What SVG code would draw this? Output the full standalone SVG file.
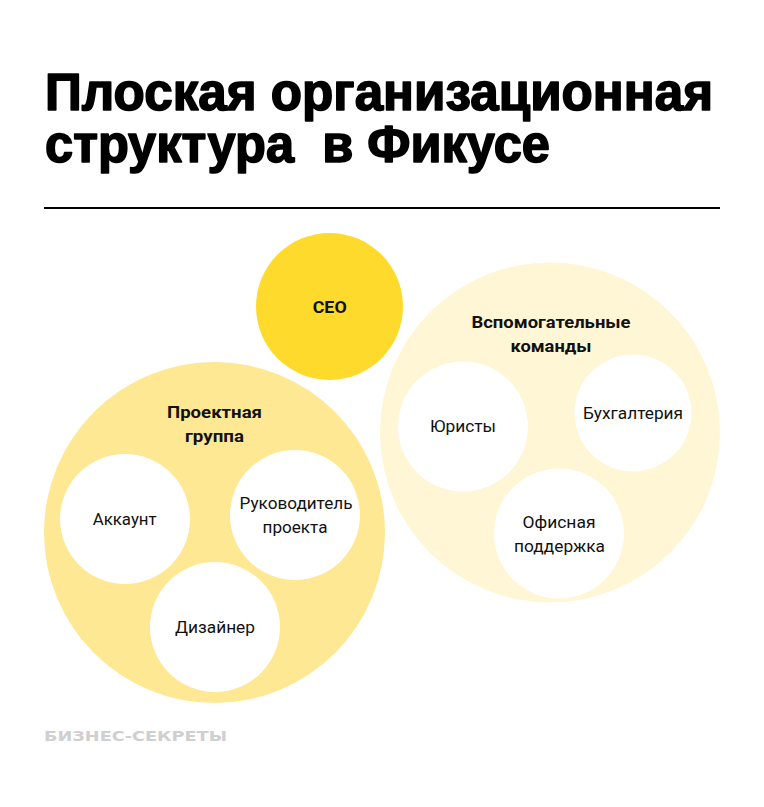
<svg xmlns="http://www.w3.org/2000/svg" width="764" height="807" viewBox="0 0 764 807">
<style>
.title{font-family:"Liberation Sans Narrow","Liberation Sans",Arial,sans-serif;font-weight:700;font-size:51px;fill:#000;stroke:#000;stroke-width:1.6px;stroke-linejoin:round;white-space:pre}
.lbl{font-family:Roboto,"Noto Sans",sans-serif;font-size:17px;fill:#111;text-anchor:middle}
.grp{font-family:Roboto,"Noto Sans",sans-serif;font-weight:700;font-size:17px;fill:#111;text-anchor:middle}
.inner{fill:#fff}
</style>
<rect width="764" height="807" fill="#fff"/>
<text class="title" x="45" y="110" textLength="668" lengthAdjust="spacingAndGlyphs">Плоская организационная</text>
<text class="title" x="45" y="162" textLength="505" lengthAdjust="spacingAndGlyphs">структура  в Фикусе</text>
<line x1="44" y1="208" x2="720" y2="208" stroke="#000" stroke-width="2"/>

<g id="project-group">
<circle cx="214.5" cy="532.5" r="170.5" fill="#FEE894"/>
<text class="grp" x="214.5" y="418" textLength="95" lengthAdjust="spacingAndGlyphs">Проектная</text>
<text class="grp" x="214.5" y="442" textLength="59" lengthAdjust="spacingAndGlyphs">группа</text>
</g>
<g id="support-teams">
<circle cx="550" cy="432.5" r="170" fill="#FFF6D6"/>
<text class="grp" x="551" y="328" textLength="159" lengthAdjust="spacingAndGlyphs">Вспомогательные</text>
<text class="grp" x="551" y="352" textLength="81" lengthAdjust="spacingAndGlyphs">команды</text>
</g>
<g id="ceo">
<circle cx="329.5" cy="306.5" r="73.5" fill="#FEDA2C"/>
<text class="grp" x="329.7" y="313" font-size="18" textLength="34" lengthAdjust="spacingAndGlyphs">CEO</text>
</g>
<g id="account">
<circle class="inner" cx="125" cy="519" r="65"/>
<text class="lbl" x="124.7" y="525" textLength="64" lengthAdjust="spacingAndGlyphs">Аккаунт</text>
</g>
<g id="project-manager">
<circle class="inner" cx="295" cy="515" r="65"/>
<text class="lbl" x="296" y="509" textLength="113" lengthAdjust="spacingAndGlyphs">Руководитель</text>
<text class="lbl" x="295" y="532.5" textLength="65" lengthAdjust="spacingAndGlyphs">проекта</text>
</g>
<g id="designer">
<circle class="inner" cx="215" cy="627" r="65"/>
<text class="lbl" x="215" y="633" textLength="80" lengthAdjust="spacingAndGlyphs">Дизайнер</text>
</g>
<g id="lawyers">
<circle class="inner" cx="463" cy="426.5" r="65"/>
<text class="lbl" x="463" y="431.5" textLength="66" lengthAdjust="spacingAndGlyphs">Юристы</text>
</g>
<g id="accounting">
<circle class="inner" cx="633" cy="413" r="58.5"/>
<text class="lbl" x="633" y="419" textLength="100" lengthAdjust="spacingAndGlyphs">Бухгалтерия</text>
</g>
<g id="office-support">
<circle class="inner" cx="559" cy="533.5" r="65"/>
<text class="lbl" x="559" y="527.5" textLength="73" lengthAdjust="spacingAndGlyphs">Офисная</text>
<text class="lbl" x="559.5" y="551.5" textLength="91" lengthAdjust="spacingAndGlyphs">поддержка</text>
</g>
<g id="connectors"></g>
<text x="44" y="741" font-family="'DejaVu Sans',Verdana,sans-serif" font-weight="700" font-size="14" fill="#CFCFCF" textLength="183" lengthAdjust="spacingAndGlyphs">БИЗНЕС-СЕКРЕТЫ</text>
</svg>
